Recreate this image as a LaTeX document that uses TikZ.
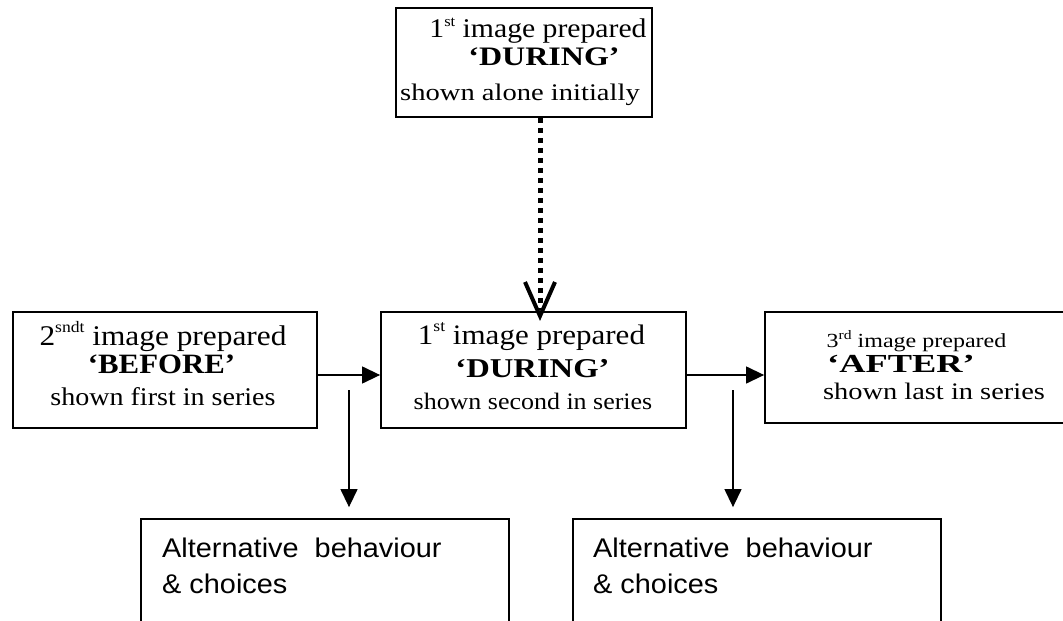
\documentclass[tikz,border=0pt]{standalone}
\usepackage{fontspec}
\setmainfont{Liberation Serif}
\newfontfamily\rA{Liberation Serif}[FakeStretch=1.1]
\newfontfamily\rB{Liberation Serif}[FakeStretch=1.2]
\newfontfamily\rC{Liberation Serif}[FakeStretch=1.4]
\newfontfamily\altfont{Liberation Sans}[FakeStretch=1.07]
\usetikzlibrary{arrows.meta}
\newcommand{\fs}[1]{\fontsize{#1}{#1}\selectfont}
% superscript: #1 size, #2 raise, #3 text
\newcommand{\sps}[3]{\raisebox{#2pt}{\fontsize{#1}{#1}\selectfont #3}}
\begin{document}
\begin{tikzpicture}[x=1pt,y=-1pt,
  box/.style={draw, line width=1.8pt, inner sep=0pt},
  txt/.style={inner sep=0pt, anchor=base},
  ltxt/.style={inner sep=0pt, anchor=base west},
  arr/.style={line width=1.3pt, -{Triangle[length=18pt,width=17pt]}},
  dots/.style={line width=5pt, dash pattern=on 5pt off 5pt}]
\useasboundingbox (0,0) rectangle (1063,621);
\clip (0,0) rectangle (1063,621);
% boxes
\node[box, minimum width=256pt, minimum height=109pt] (top) at (524,62.5) {};
\node[box, minimum width=304pt, minimum height=116pt] (left) at (165,370) {};
\node[box, minimum width=305pt, minimum height=116pt] (mid) at (533.5,370) {};
\node[box, minimum width=315pt, minimum height=111pt] (right) at (922.5,367.5) {};
\node[box, minimum width=368pt, minimum height=141pt] (alt1) at (325,589.5) {};
\node[box, minimum width=368pt, minimum height=141pt] (alt2) at (757,589.5) {};
% top box texts
\node[txt] (t1) at (538,37) {\rA\fs{27}1\sps{15}{10}{st} image prepared};
\node[txt] (t2) at (544,65) {\rB\fs{26.7}\bfseries ‘DURING’};
\node[txt] (t3) at (520,100) {\rB\fs{23.8}shown alone initially};
% left box texts
\node[txt] (l1) at (163,345) {\rA\fs{28.5}2\sps{16}{12.5}{sndt} image prepared};
\node[txt] (l2) at (161.5,373) {\rA\fs{28}\bfseries ‘BEFORE’};
\node[txt] (l3) at (163,405) {\rA\fs{25.5}shown first in series};
% middle box texts
\node[txt] (m1) at (531.5,344) {\rA\fs{28.2}1\sps{16}{12.5}{st} image prepared};
\node[txt] (m2) at (532.5,377) {\rB\fs{27.2}\bfseries ‘DURING’};
\node[txt] (m3) at (533,409) {\rA\fs{23.6}shown second in series};
% right box texts
\node[txt] (r1) at (916.5,347) {\rB\fs{20}3\sps{13}{7.5}{rd} image prepared};
\node[txt] (r2) at (901,372) {\rC\fs{26}\bfseries ‘AFTER’};
\node[txt] (r3) at (934,399) {\rB\fs{23.7}shown last in series};
% bottom box texts
\node[ltxt] (a1) at (162,557) {\altfont\fs{27}Alternative\ \ behaviour};
\node[ltxt] (a2) at (162,593) {\altfont\fs{27}\&\ choices};
\node[ltxt] (b1) at (593,557) {\altfont\fs{27}Alternative\ \ behaviour};
\node[ltxt] (b2) at (593,593) {\altfont\fs{27}\&\ choices};
% dotted connector with open V head
\coordinate (dtop) at (540,118);
\coordinate (vtip) at (540,316);
\draw[dots] (dtop) -- ([yshift=6pt]vtip);
\draw[line width=4pt, line join=miter, miter limit=10]
  ([shift={(-15,-34)}]vtip) -- (vtip) -- ([shift={(15,-34)}]vtip);
% horizontal arrows
\draw[arr] ([yshift=-5pt]left.east) -- ([yshift=-5pt]left.east -| mid.west);
\draw[arr] ([yshift=-5pt]mid.east) -- ([yshift=-5pt]mid.east -| right.west);
% vertical arrows
\coordinate (s1) at (349,390);
\coordinate (s2) at (733,390);
\draw[arr, shorten >=11pt] (s1) -- (s1 |- alt1.north);
\draw[arr, shorten >=11pt] (s2) -- (s2 |- alt2.north);
\end{tikzpicture}
\end{document}
